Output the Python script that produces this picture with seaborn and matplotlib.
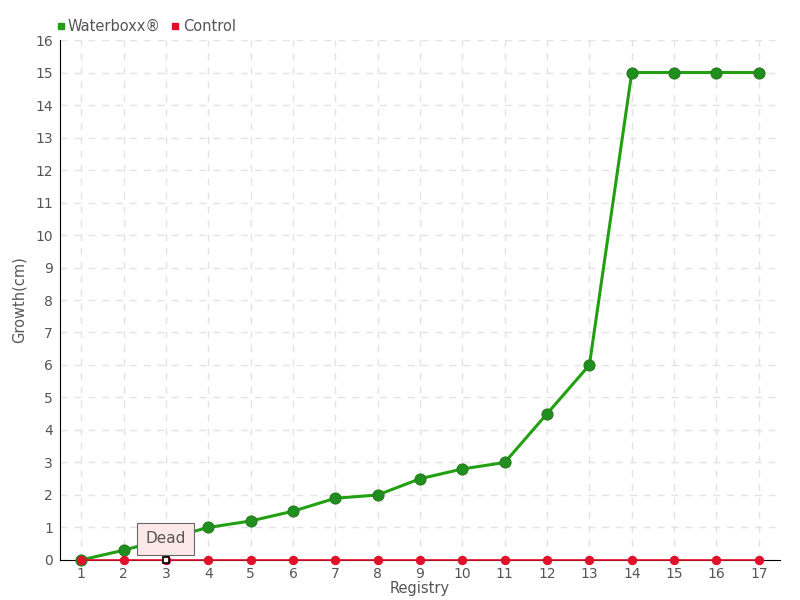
import numpy as np
import pandas as pd
import seaborn as sns
import matplotlib.pyplot as plt
from matplotlib.lines import Line2D

# Data
registry = list(range(1, 18))
waterboxx = [0, 0.3, 0.65, 1.0, 1.2, 1.5, 1.9, 2.0, 2.5, 2.8, 3.0, 4.5, 6.0, 15, 15, 15, 15]
control = [0] * 17

df = pd.DataFrame({
    "Registry": registry * 2,
    "Growth": waterboxx + control,
    "Series": ["Waterboxx®"] * 17 + ["Control"] * 17,
})

sns.set_style("white")
plt.rcParams["font.family"] = ["Liberation Sans Narrow", "DejaVu Sans"]

green = "#22a012"
red = "#e0102a"
text_col = "#555555"

fig = plt.figure(figsize=(8, 6), dpi=100)
ax = fig.add_axes([0.075, 0.0667, 0.9, 0.8666])

sns.lineplot(data=df[df.Series == "Waterboxx®"], x="Registry", y="Growth",
             color=green, lw=2.2, marker="o", markersize=8,
             markerfacecolor="#1f8f1f", markeredgecolor="#2b7a1f",
             ax=ax, legend=False, clip_on=False, zorder=3)
sns.lineplot(data=df[df.Series == "Control"], x="Registry", y="Growth",
             color=red, lw=1.2, marker="o", markersize=6,
             markerfacecolor=red, markeredgecolor=red,
             ax=ax, legend=False, clip_on=False, zorder=4)

# hovered point
ax.plot(3, 0, marker="s", ms=5, mfc="white", mec="black", mew=1.2,
        zorder=5, clip_on=False)
ax.annotate("Dead", xy=(3, 0), xytext=(3, 0.65), ha="center", va="center",
            fontsize=11, color=text_col,
            bbox=dict(boxstyle="square,pad=0.55", fc="#fde8e8", ec="#666666", lw=0.8),
            zorder=6)

ax.set_xlim(0.5, 17.5)
ax.set_ylim(0, 16)
ax.set_xticks(registry)
ax.set_yticks(range(0, 17))
ax.tick_params(axis="both", labelsize=10, labelcolor=text_col, length=4,
               color="#333333", pad=1)
ax.grid(True, color="#e3e3e3", linestyle=(0, (5, 5)), lw=1)
for s in ["top", "right"]:
    ax.spines[s].set_visible(False)
ax.spines["left"].set_color("black")
ax.spines["bottom"].set_color("black")
ax.spines["left"].set_zorder(2)
ax.spines["bottom"].set_zorder(2)

ax.set_xlabel("Registry", fontsize=10.5, color=text_col, labelpad=0, va="top")
ax.xaxis.set_label_coords(0.5, -0.04)
ax.set_ylabel("Growth(cm)", fontsize=10.5, color=text_col, labelpad=6)

handles = [Line2D([], [], ls="", marker="s", ms=4, color=green),
           Line2D([], [], ls="", marker="s", ms=4, color=red)]
fig.legend(handles, ["Waterboxx®", "Control"], loc="upper left",
           bbox_to_anchor=(0.052, 0.99), ncol=2, frameon=False,
           fontsize=10.5, labelcolor=text_col, handletextpad=0.1,
           columnspacing=0.6, handlelength=0.8)

fig.savefig("out.png", dpi=100)
